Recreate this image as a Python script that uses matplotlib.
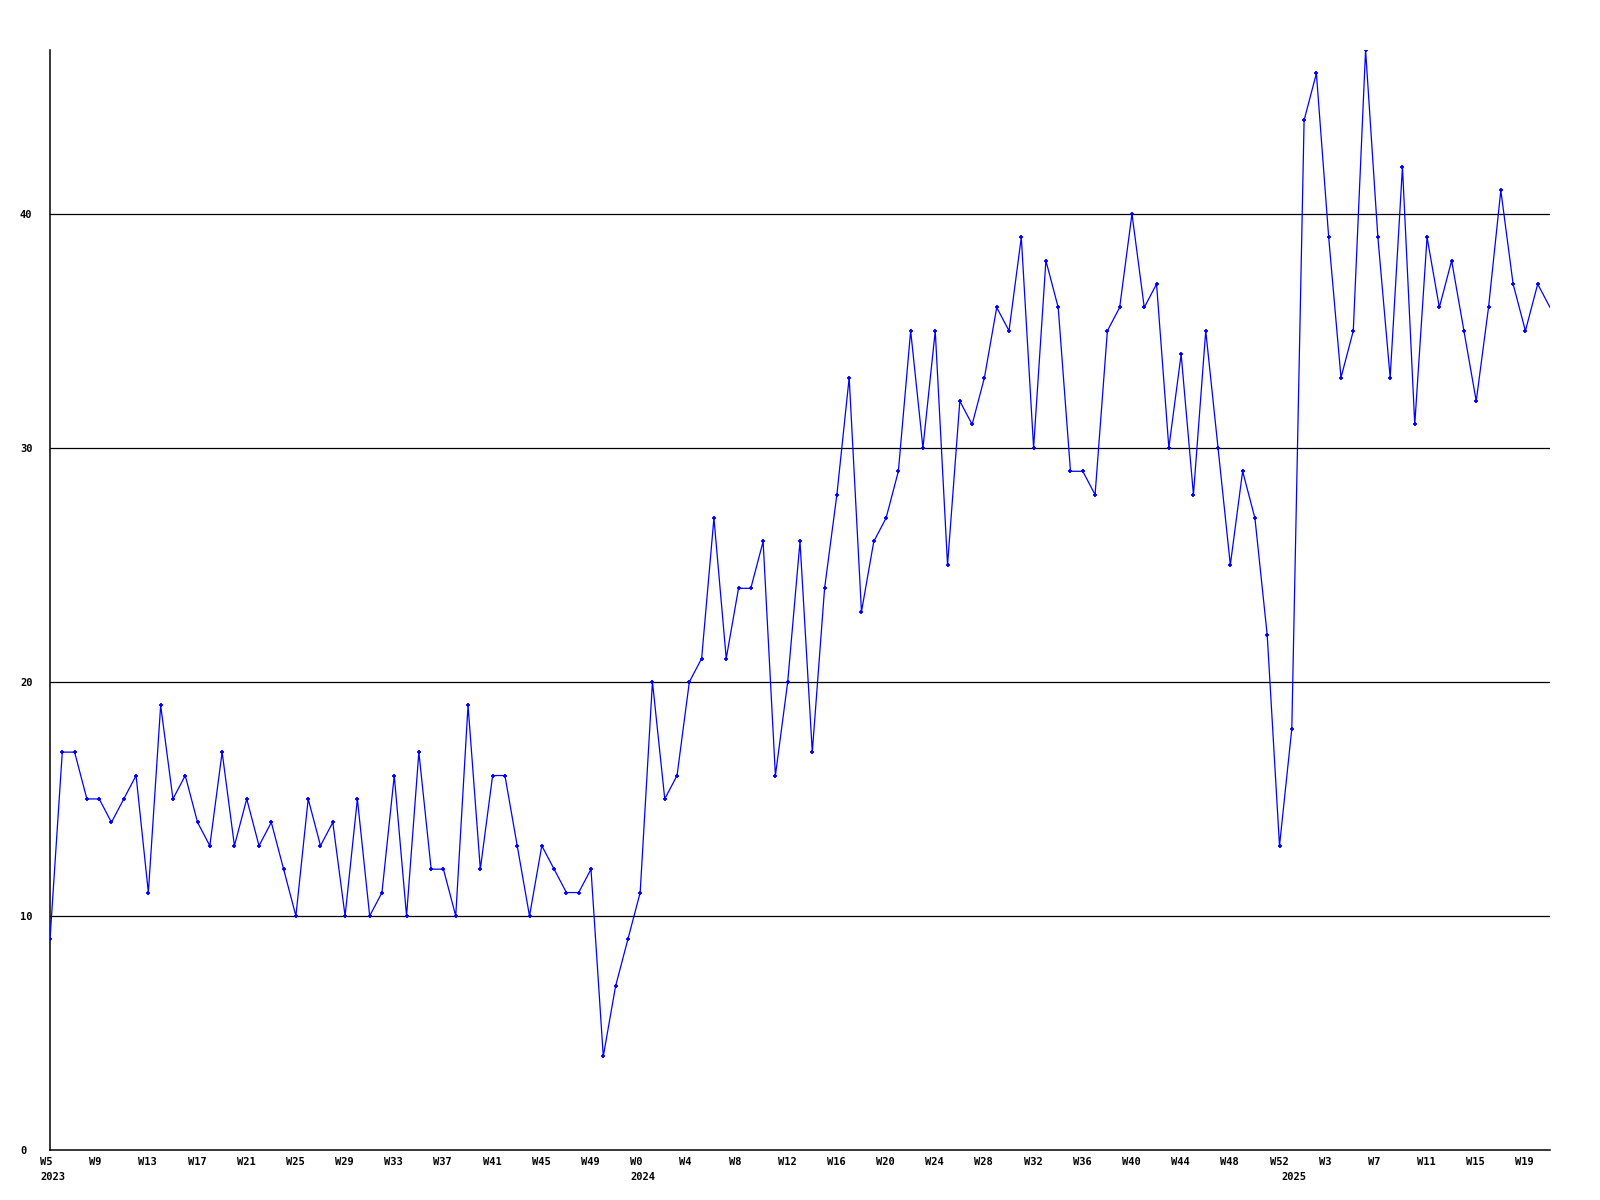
import matplotlib
matplotlib.use("Agg")
import matplotlib.pyplot as plt
import matplotlib.transforms as mtransforms

# ---- data ----
years = [2023] * 48 + [2024] * 53 + [2025] * 22
weeks = list(range(5, 53)) + list(range(0, 53)) + list(range(0, 22))
counts = [
    9, 17, 17, 15, 15, 14, 15, 16, 11, 19, 15, 16, 14, 13, 17, 13, 15, 13, 14, 12,
    10, 15, 13, 14, 10, 15, 10, 11, 16, 10, 17, 12, 12, 10, 19, 12, 16, 16, 13, 10,
    13, 12, 11, 11, 12, 4, 7, 9, 11,
    20, 15, 16, 20, 21, 27, 21, 24, 24, 26, 16, 20, 26, 17, 24, 28, 33, 23, 26, 27,
    29, 35, 30, 35, 25, 32, 31, 33, 36, 35, 39, 30, 38, 36, 29, 29, 28, 35, 36, 40,
    36, 37, 30, 34, 28, 35, 30, 25, 29, 27, 22, 13,
    18, 44, 46, 39, 33, 35, 47, 39, 33, 42, 31, 39, 36, 38, 35, 32, 36, 41, 37, 35,
    37, 36,
]
y_ticks = [0, 10, 20, 30, 40]

# ---- figure ----
fig = plt.figure(figsize=(16, 12), dpi=100)
ax = fig.add_axes([50 / 1600, 1 - 1150 / 1200, 1500 / 1600, 1100 / 1200])
x = list(range(len(counts)))
ax.set_xlim(0, len(counts) - 1)
ax.set_ylim(0, max(counts))

for t in y_ticks[1:]:
    ax.axhline(t, color="black", lw=0.9, zorder=1)

ax.plot(x[:-1], counts[:-1], color="#0000ff", lw=0.9, marker="+", markersize=3.2,
        markeredgewidth=1.3, zorder=3)
ax.plot(x[-2:], counts[-2:], color="#0000ff", lw=0.9, zorder=3)

for s in ["top", "right"]:
    ax.spines[s].set_visible(False)
for s in ["left", "bottom"]:
    ax.spines[s].set_color("black")
    ax.spines[s].set_linewidth(1.1)

font = dict(family="DejaVu Sans Mono", weight="bold", size=7.5)

ax.set_xticks([])
ax.set_yticks(y_ticks)
ax.set_yticklabels([str(v) for v in y_ticks], **font)
ax.tick_params(axis="y", length=0, pad=21.6)
for lab in ax.get_yticklabels():
    lab.set_horizontalalignment("left")

wk_tr = mtransforms.offset_copy(ax.get_xaxis_transform(), fig=fig, x=-10, y=-12, units="dots")
yr_tr = mtransforms.offset_copy(ax.get_xaxis_transform(), fig=fig, x=-10, y=-27, units="dots")
for i in range(0, len(weeks), 4):
    ax.text(i, 0, f"W{weeks[i]}", transform=wk_tr, ha="left", va="center", **font)
for i in range(len(years)):
    if i == 0 or years[i] != years[i - 1]:
        ax.text(i, 0, str(years[i]), transform=yr_tr, ha="left", va="center", **font)

fig.savefig("out.png", dpi=100, facecolor="white")
